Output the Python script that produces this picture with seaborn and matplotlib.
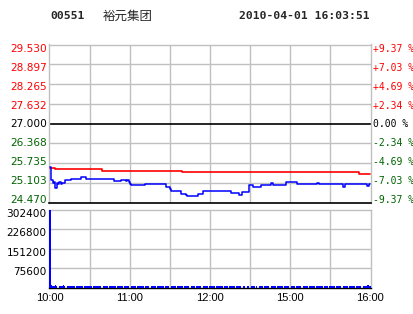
import matplotlib
matplotlib.use("Agg")
import matplotlib.pyplot as plt
import matplotlib.transforms as mtransforms
import seaborn as sns
import pandas as pd

# ---------------- data ----------------
code = "00551"
name = "裕元集团"
stamp = "2010-04-01 16:03:51"

price_ticks = [24.470, 25.103, 25.735, 26.368, 27.000, 27.632, 28.265, 28.897, 29.530]
price_labels = ["24.470", "25.103", "25.735", "26.368", "27.000", "27.632", "28.265", "28.897", "29.530"]
pct_labels = ["-9.37 %", "-7.03 %", "-4.69 %", "-2.34 %", "0.00 %", "+2.34 %", "+4.69 %", "+7.03 %", "+9.37 %"]
prev_close = 27.000

time_ticks = [0, 60, 120, 180, 240]
time_labels = ["10:00", "11:00", "12:00", "15:00", "16:00"]

vol_ticks = [75600, 151200, 226800, 302400]
vol_labels = ["75600", "151200", "226800", "302400"]

price_min = [0, 1, 2, 3, 4, 5, 6, 7, 8, 9, 10, 11, 15, 16, 22, 23, 26, 27, 47, 48, 52, 53, 57, 58, 59,
             60, 61, 70, 71, 86, 87, 90, 91, 97, 98, 102, 103, 110, 111, 114, 115, 135, 136, 141,
             142, 144, 149, 152, 157, 158, 165, 166, 167, 176, 177, 184, 185, 190, 191, 199, 200,
             202, 205, 207, 217, 220, 221, 237, 238, 239, 240]
price_val = [25.60, 25.19, 25.10, 25.14, 24.93, 25.10, 25.06, 25.12, 25.07, 25.11, 25.09, 25.20, 25.20,
             25.23, 25.23, 25.28, 25.28, 25.23, 25.23, 25.18, 25.17, 25.19, 25.18, 25.21, 25.14,
             25.06, 25.04, 25.04, 25.06, 25.06, 24.98, 24.90, 24.84, 24.84, 24.74, 24.71, 24.68,
             24.68, 24.74, 24.74, 24.84, 24.84, 24.77, 24.77, 24.72, 24.80, 25.04, 24.98, 24.98,
             25.04, 25.04, 25.11, 25.04, 25.04, 25.12, 25.12, 25.06, 25.08, 25.06, 25.06, 25.11,
             25.06, 25.08, 25.06, 25.06, 24.98, 25.06, 25.06, 24.99, 25.07, 25.06]

avg_min = [0, 4, 38, 39, 98, 99, 158, 159, 231, 232, 240]
avg_val = [25.58, 25.54, 25.54, 25.49, 25.49, 25.46, 25.46, 25.44, 25.44, 25.40, 25.40]

volume = [300000,
          9000, 7000, 6000, 8000, 5000, 0, 7000, 6000, 7000, 8000, 6000, 0, 7000, 6000, 6000, 7000, 5000, 6000, 0, 6000,
          6000, 7000, 5000, 6000, 0, 6000, 7000, 6000, 5000, 6000, 7000, 0, 6000, 5000, 6000, 6000, 7000, 5000, 0, 6000,
          5000, 6000, 6000, 0, 5000, 6000, 7000, 5000, 6000, 0, 6000, 5000, 6000, 7000, 0, 5000, 6000, 5000, 6000, 0,
          6000, 5000, 7000, 6000, 0, 5000, 6000, 6000, 5000, 6000, 0, 6000, 5000, 6000, 0, 5000, 6000, 7000, 6000, 0,
          5000, 6000, 5000, 6000, 6000, 0, 5000, 6000, 7000, 0, 6000, 5000, 6000, 5000, 0, 6000, 6000, 5000, 7000, 0,
          6000, 5000, 6000, 6000, 0, 5000, 6000, 5000, 0, 6000, 7000, 5000, 6000, 0, 5000, 6000, 6000, 5000, 0, 6000,
          5000, 6000, 7000, 0, 6000, 5000, 6000, 6000, 5000, 0, 6000, 5000, 6000, 0, 5000, 6000, 7000, 5000, 0, 6000,
          6000, 5000, 6000, 0, 5000, 6000, 0, 6000, 5000, 0, 6000, 5000, 6000, 0, 7000, 0, 6000, 5000, 6000, 0,
          5000, 6000, 6000, 5000, 0, 6000, 5000, 6000, 7000, 0, 5000, 6000, 6000, 5000, 0, 6000, 5000, 6000, 6000, 0,
          6000, 5000, 6000, 0, 5000, 6000, 6000, 7000, 0, 5000, 6000, 5000, 6000, 0, 6000, 5000, 6000, 6000, 0, 5000,
          6000, 5000, 6000, 6000, 0, 5000, 6000, 7000, 0, 6000, 5000, 6000, 5000, 0, 6000, 6000, 5000, 6000, 0, 6000,
          5000, 6000, 6000, 0, 5000, 6000, 7000, 6000, 0, 5000, 6000, 6000, 5000, 0, 6000, 7000, 6000, 8000, 9000, 7000]
vol_min = list(range(len(volume)))

# ---------------- style ----------------
sns.set_style("white")
plt.rcParams['font.family'] = ['DejaVu Sans']

RED = "#ff0000"
GREEN = "#006400"
BLUE = "#0000ff"
GRID = "#c0c0c0"

fig = plt.figure(figsize=(4.14, 3.14), dpi=100)
fig.patch.set_facecolor("white")

L, W = 49.5 / 414, (371 - 49.5) / 414
ax = fig.add_axes([L, 1 - 202.7 / 314, W, (202.7 - 44.5) / 314])
axv = fig.add_axes([L, 1 - 287.5 / 314, W, (287.5 - 209.5) / 314], sharex=ax)

XMIN, XMAX = -0.4, 240.8
grid_x = [30, 60, 90, 120, 150, 180, 210]


def px_shift(dy_px):
    return mtransforms.ScaledTranslation(0, dy_px / 100.0, fig.dpi_scale_trans)


# ---------- price panel ----------
for yv in price_ticks:
    if abs(yv - prev_close) < 1e-6:
        continue
    ax.axhline(yv, color=GRID, lw=1, zorder=0)
for xv in grid_x:
    ax.axvline(xv, color=GRID, lw=1, zorder=0)
ax.axhline(prev_close, color="black", lw=1.2, zorder=1)

df_p = pd.DataFrame({"m": price_min, "p": price_val})
df_a = pd.DataFrame({"m": avg_min, "p": avg_val})
sns.lineplot(data=df_a, x="m", y="p", ax=ax, color=RED, lw=1.2, drawstyle="steps-post", zorder=3)
sns.lineplot(data=df_p, x="m", y="p", ax=ax, color=BLUE, lw=1.1, drawstyle="steps-post", zorder=4)

ax.set_xlim(XMIN, XMAX)
ax.set_ylim(price_ticks[0], price_ticks[-1])
ax.set_yticks(price_ticks)
ax.set_yticklabels(price_labels)
ax.set_xlabel("")
ax.set_ylabel("")
ax.tick_params(axis="y", length=0, pad=2, labelsize=7.6)
ax.tick_params(axis="x", length=0, labelbottom=False)
for i, (lab, v) in enumerate(zip(ax.get_yticklabels(), price_ticks)):
    lab.set_color(RED if v > prev_close + 1e-6 else (GREEN if v < prev_close - 1e-6 else "black"))
    lab.set_transform(lab.get_transform() + px_shift(3.4 - i * 0.825))

for s in ["left", "top", "right"]:
    ax.spines[s].set_color(GRID)
    ax.spines[s].set_linewidth(1)
ax.spines["bottom"].set_color("black")
ax.spines["bottom"].set_linewidth(1.2)

axr = ax.twinx()
axr.set_ylim(price_ticks[0], price_ticks[-1])
axr.set_yticks(price_ticks)
axr.set_yticklabels(pct_labels, family="DejaVu Sans Mono")
axr.tick_params(axis="y", length=0, pad=1.5, labelsize=7)
for i, (lab, v) in enumerate(zip(axr.get_yticklabels(), price_ticks)):
    lab.set_color(RED if v > prev_close + 1e-6 else (GREEN if v < prev_close - 1e-6 else "black"))
    lab.set_transform(lab.get_transform() + px_shift(3.4 - i * 0.825))
for s in axr.spines.values():
    s.set_visible(False)

# ---------- volume panel ----------
for yv in vol_ticks[:-1]:
    axv.axhline(yv, color=GRID, lw=1, zorder=0)
for xv in grid_x:
    axv.axvline(xv, color=GRID, lw=1, zorder=0)

sns.histplot(x=vol_min, weights=volume, discrete=True, ax=axv, color=BLUE,
             alpha=1, edgecolor=None, linewidth=0, shrink=0.85, zorder=3)

axv.set_xlim(XMIN, XMAX)
axv.set_ylim(0, vol_ticks[-1])
axv.set_yticks(vol_ticks)
axv.set_yticklabels(vol_labels)
axv.set_xticks(time_ticks)
axv.set_xticklabels(time_labels, family="Liberation Sans")
axv.set_xlabel("")
axv.set_ylabel("")
axv.tick_params(axis="y", length=0, pad=2, labelsize=7.6, labelcolor="black")
axv.tick_params(axis="x", length=0, pad=4, labelsize=8, labelcolor="black")
for lab in axv.get_yticklabels():
    lab.set_transform(lab.get_transform() + px_shift(-3.2))
for s in ["left", "top", "right"]:
    axv.spines[s].set_color(GRID)
    axv.spines[s].set_linewidth(1)
axv.spines["bottom"].set_color("black")
axv.spines["bottom"].set_linewidth(1)

# ---------- header ----------
fig.text(50 / 414, 1 - 16 / 314, code, family="DejaVu Sans Mono", weight="bold",
         fontsize=8.2, ha="left", va="center")
fig.text(103 / 414, 1 - 16 / 314, name, family=["Noto Sans CJK SC", "DejaVu Sans"],
         fontsize=9, ha="left", va="center")
fig.text(370 / 414, 1 - 16 / 314, stamp, family="DejaVu Sans Mono", weight="bold",
         fontsize=8.2, ha="right", va="center")

fig.savefig("out.png", dpi=100, facecolor="white")
